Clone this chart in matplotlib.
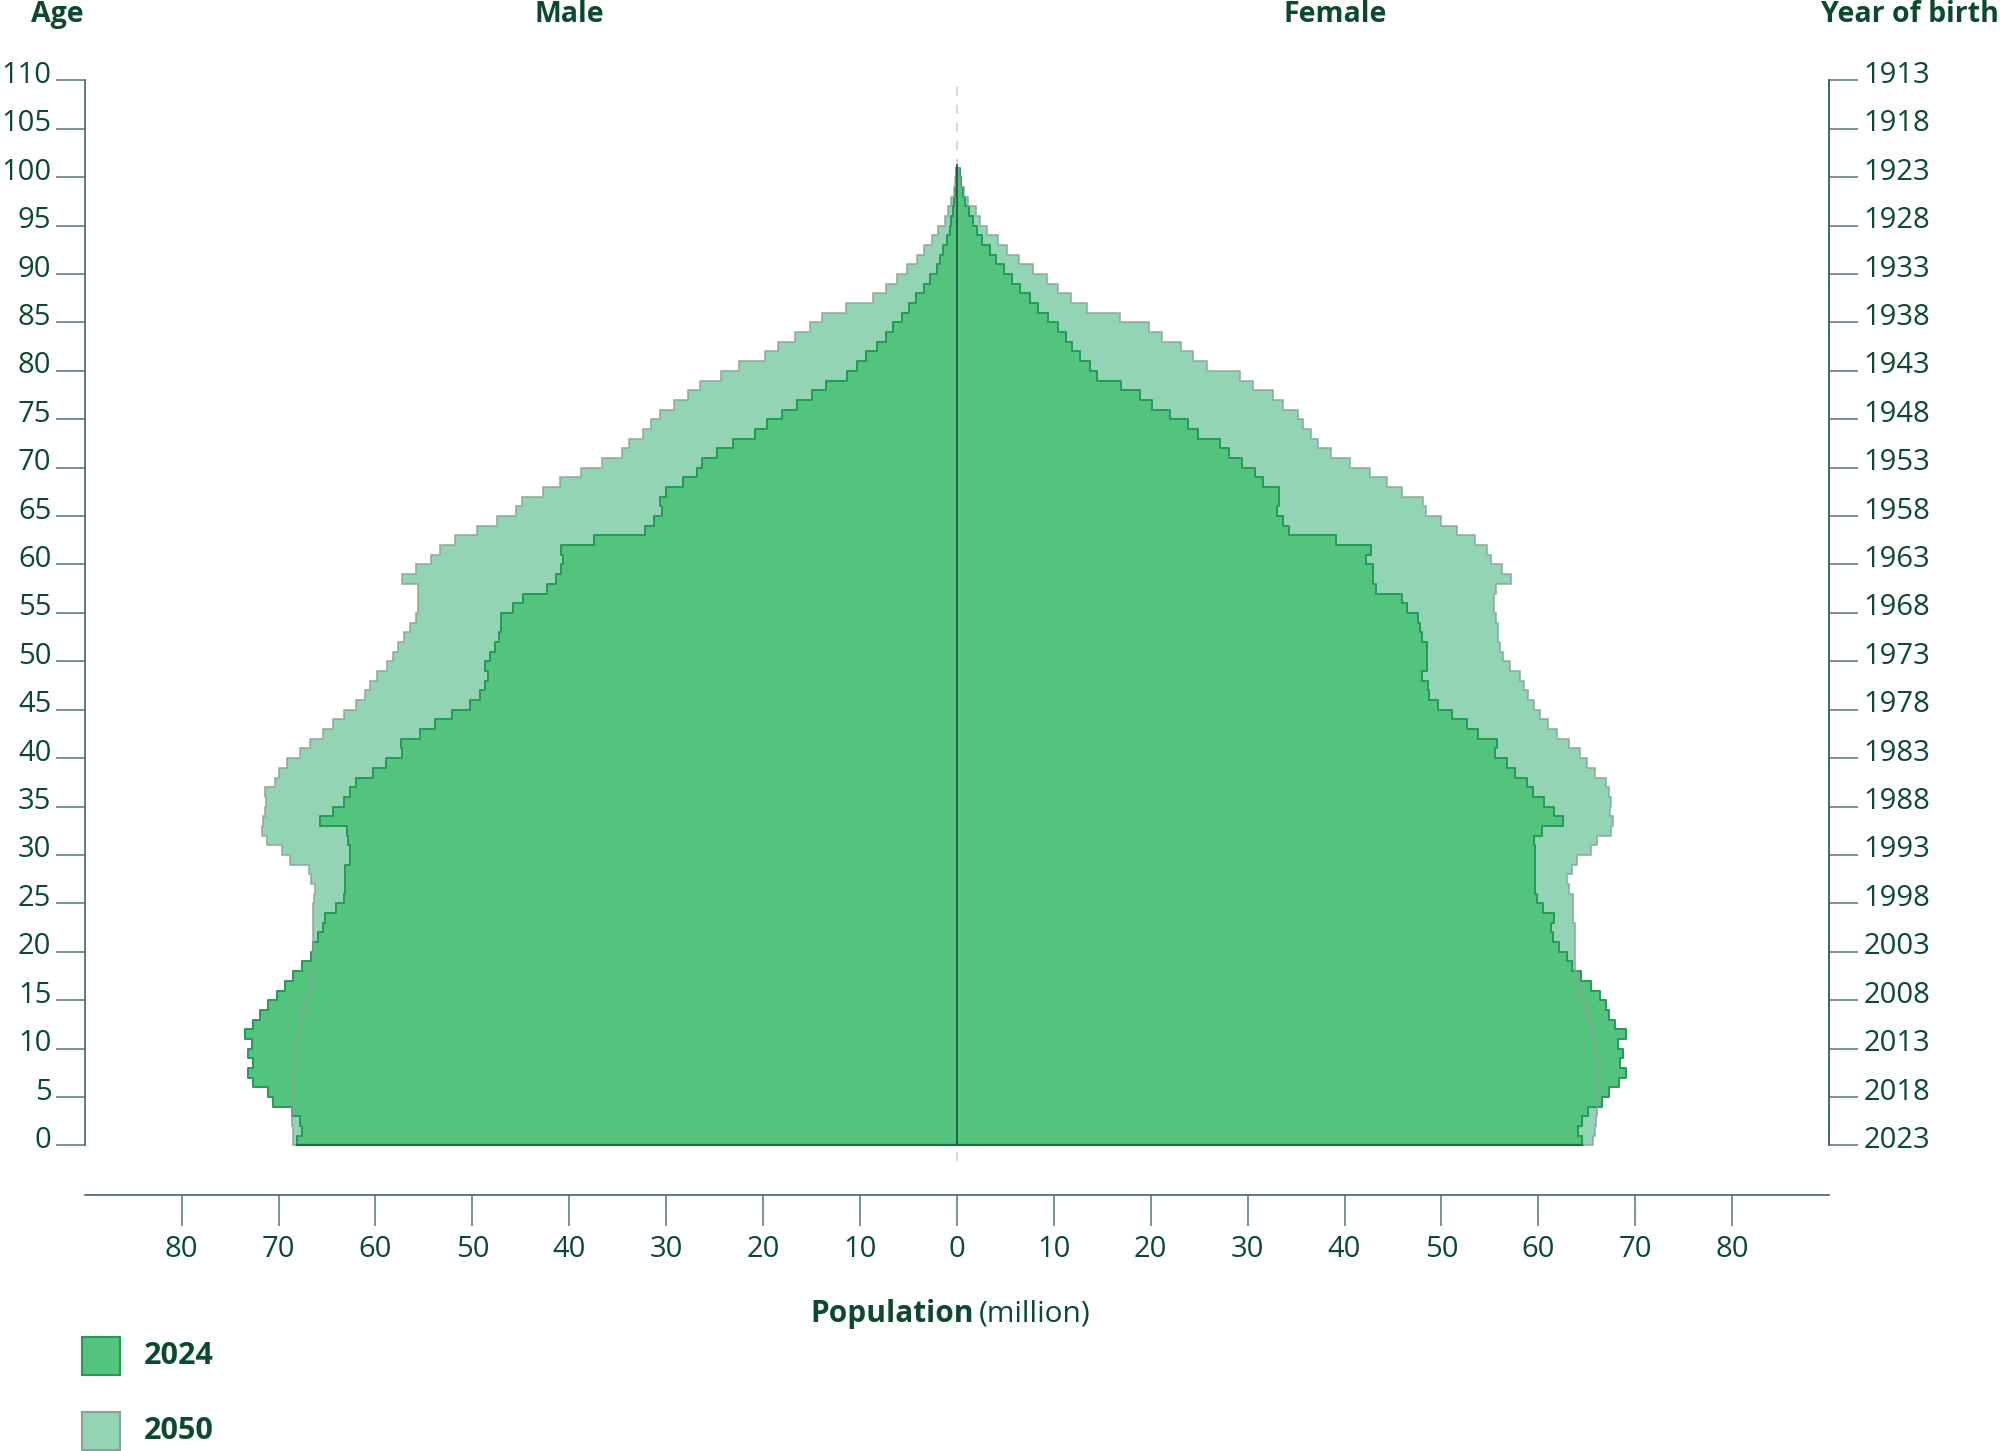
import numpy as np
import matplotlib
matplotlib.use("Agg")
import matplotlib.pyplot as plt
from matplotlib.patches import Rectangle
from matplotlib.transforms import ScaledTranslation

plt.rcParams["font.family"] = ["Open Sans", "DejaVu Sans"]

# ===== data (million, single years of age 0..100) =====
ages = np.arange(0, 101)

male_2024 = [
    68.1, 67.6, 67.8, 68.6, 70.6, 71.1, 72.6, 73.2, 72.6, 73.2,
    72.7, 73.5, 72.6, 71.9, 71.1, 70.2, 69.3, 68.5, 67.6, 66.7,
    66.4, 65.9, 65.4, 65.2, 64.1, 63.3, 63.1, 63.1, 63.1, 62.6,
    62.6, 62.8, 62.9, 65.7, 64.4, 63.3, 62.6, 62.0, 60.3, 58.9,
    57.3, 57.4, 55.4, 53.9, 52.1, 50.2, 49.2, 48.7, 48.4, 48.7,
    48.2, 47.7, 47.3, 47.1, 47.0, 45.8, 44.8, 42.3, 41.4, 40.9,
    40.6, 40.9, 37.4, 32.2, 31.3, 30.4, 30.6, 30.0, 28.3, 26.8,
    26.3, 24.8, 23.1, 20.8, 19.6, 18.0, 16.5, 15.0, 13.5, 11.3,
    10.3, 9.4, 8.2, 7.3, 6.6, 5.7, 4.9, 4.2, 3.4, 2.8,
    2.1, 1.7, 1.4, 1.0, 0.76, 0.6, 0.42, 0.28, 0.17, 0.1,
    0.05]

male_2050 = [
    68.5, 68.5, 68.6, 68.6, 68.6, 68.6, 68.5, 68.5, 68.4, 68.2,
    68.1, 67.9, 67.7, 67.5, 67.3, 67.0, 66.8, 66.6, 66.5, 66.5,
    66.4, 66.4, 66.4, 66.4, 66.4, 66.3, 66.2, 66.7, 66.9, 68.8,
    69.6, 71.2, 71.7, 71.6, 71.4, 71.3, 71.4, 70.4, 70.0, 69.1,
    67.8, 66.8, 65.4, 64.4, 63.2, 62.0, 61.1, 60.6, 59.8, 58.8,
    58.2, 57.7, 57.1, 56.4, 55.8, 55.6, 55.6, 55.6, 57.3, 55.8,
    54.3, 53.3, 51.8, 49.5, 47.5, 45.5, 44.9, 42.7, 41.0, 38.8,
    36.6, 34.6, 33.8, 32.4, 31.6, 30.6, 29.2, 27.8, 26.5, 24.3,
    22.5, 19.8, 18.5, 16.7, 15.2, 13.9, 11.4, 8.7, 7.3, 6.2,
    5.1, 4.1, 3.4, 2.6, 1.9, 1.2, 0.9, 0.6, 0.35, 0.17,
    0.08]

female_2024 = [
    64.5, 64.1, 64.5, 65.1, 66.6, 67.3, 68.3, 69.0, 68.4, 68.7,
    68.2, 69.1, 67.9, 67.3, 67.0, 66.4, 65.4, 64.4, 63.5, 63.0,
    62.1, 61.5, 61.3, 61.6, 60.5, 59.9, 59.7, 59.7, 59.7, 59.7,
    59.7, 59.6, 60.4, 62.5, 61.6, 60.6, 59.5, 58.8, 57.6, 56.8,
    55.5, 55.7, 53.8, 52.6, 51.1, 49.6, 48.7, 48.6, 48.0, 48.5,
    48.5, 48.5, 48.0, 47.8, 47.6, 46.5, 45.9, 43.3, 42.9, 42.9,
    42.2, 42.7, 39.1, 34.3, 33.7, 33.0, 33.2, 33.2, 31.6, 30.8,
    29.4, 28.1, 27.2, 24.9, 23.8, 22.0, 20.1, 18.9, 16.9, 14.5,
    13.7, 12.7, 11.9, 11.3, 10.4, 9.4, 8.4, 7.5, 6.5, 5.7,
    4.9, 4.0, 3.4, 2.6, 2.1, 1.7, 1.2, 0.87, 0.63, 0.42,
    0.28]

female_2050 = [
    65.6, 65.8, 66.0, 66.1, 66.1, 66.1, 66.1, 66.1, 66.1, 66.0,
    65.9, 65.6, 65.3, 65.1, 64.7, 64.4, 64.2, 64.0, 63.8, 63.8,
    63.8, 63.8, 63.8, 63.6, 63.6, 63.6, 63.2, 63.0, 63.5, 64.0,
    65.4, 66.1, 67.5, 67.7, 67.4, 67.5, 67.3, 67.0, 65.8, 65.0,
    64.3, 63.2, 61.9, 61.0, 60.2, 59.6, 58.9, 58.5, 58.1, 57.1,
    56.4, 56.0, 55.8, 55.8, 55.6, 55.4, 55.4, 55.6, 57.2, 56.3,
    55.1, 54.7, 53.5, 51.6, 50.0, 48.4, 48.1, 45.9, 44.4, 42.6,
    40.6, 38.6, 37.3, 36.5, 35.7, 35.2, 33.7, 32.6, 30.6, 29.2,
    25.8, 24.4, 23.1, 21.2, 19.8, 16.8, 13.4, 11.8, 10.4, 9.3,
    7.9, 6.4, 5.2, 4.2, 3.1, 2.4, 2.0, 1.1, 0.76, 0.28,
    0.18]

age_ticks = list(range(0, 111, 5))
birth_labels = [str(2023 - a) for a in age_ticks]
pop_ticks = list(range(-80, 81, 10))
pop_labels = [str(abs(t)) for t in pop_ticks]

# ===== colours =====
TXT = "#0b4a2c"
TICK = "#55776a"
SPINE = "#3d6b55"
C24, E24 = "#52c47e", "#259957"
C50, E50 = "#93d4b5", "#8aa396"


def outline(vals, sign):
    # step outline of one side of the pyramid
    v = np.asarray(vals) * sign
    edges = np.arange(0, len(v) + 1)
    ys = np.concatenate([[0], np.repeat(edges, 2)[1:-1], [edges[-1]]])
    xs = np.concatenate([[0], np.repeat(v, 2), [0]])
    return xs, ys


fig = plt.figure(figsize=(20, 14.51), dpi=100)
ax = fig.add_axes([0.0424, 0.1763, 0.8721, 0.7683])
ax.set_xlim(-90, 90)
ax.set_ylim(-5.14, 110)

edges = np.arange(0, 102)
m50 = -np.append(male_2050, male_2050[-1])
f50 = np.append(female_2050, female_2050[-1])
m24 = -np.append(male_2024, male_2024[-1])
f24 = np.append(female_2024, female_2024[-1])

# faint dashed centre line
ax.plot([0, 0], [-1.6, 110], color="#c9d9d0", lw=1.3, ls=(0, (5, 5)), zorder=1)

ax.fill_betweenx(edges, m50, f50, step="post", color=C50, lw=0, zorder=2)
ax.fill_betweenx(edges, m24, f24, step="post", color=C24, lw=0, zorder=3)

for vals, sign in [(male_2024, -1), (female_2024, 1)]:
    xs, ys = outline(vals, sign)
    ax.plot(xs, ys, color=E24, lw=1.4, zorder=4)
for vals, sign in [(male_2050, -1), (female_2050, 1)]:
    xs, ys = outline(vals, sign)
    ax.plot(xs, ys, color=E50, lw=1.4, alpha=0.75, zorder=5)

ax.plot([0, 0], [0, 101.3], color="#1e5c3c", lw=1.3, zorder=6)
ax.plot([m24[0], f24[0]], [0, 0], color="#1e6e43", lw=1.6, zorder=6)

# ===== axes styling =====
ax.spines["top"].set_visible(False)
ax.spines["left"].set_bounds(0, 110)
ax.spines["right"].set_bounds(0, 110)
for s in ["left", "right", "bottom"]:
    ax.spines[s].set_color(SPINE)
    ax.spines[s].set_linewidth(1.2)

ax.set_yticks(age_ticks)
ax.set_yticklabels([str(a) for a in age_ticks], va="baseline")
ax.tick_params(axis="y", direction="out", length=21, width=1.1, color=TICK,
               labelsize=21, labelcolor=TXT, pad=3)
ax.set_xticks(pop_ticks)
ax.set_xticklabels(pop_labels)
ax.tick_params(axis="x", direction="out", length=22, width=1.1, color=TICK,
               labelsize=21, labelcolor=TXT, pad=7)

ax2 = ax.twinx()
ax2.set_ylim(ax.get_ylim())
for s in ["top", "left", "bottom"]:
    ax2.spines[s].set_visible(False)
ax2.spines["right"].set_bounds(0, 110)
ax2.spines["right"].set_color(SPINE)
ax2.spines["right"].set_linewidth(1.2)
ax2.set_yticks(age_ticks)
ax2.set_yticklabels(birth_labels, va="baseline")
ax2.tick_params(axis="y", direction="out", length=21, width=1.1, color=TICK,
                labelsize=21, labelcolor=TXT, pad=4)

# nudge age / year labels so the digits sit just on the tick line
shift = ScaledTranslation(0, -2.5 / 100, fig.dpi_scale_trans)
for lab in ax.get_yticklabels() + ax2.get_yticklabels():
    lab.set_transform(lab.get_transform() + shift)

# ===== headers =====
hdr = dict(fontsize=20.5, fontweight="bold", color=TXT, va="baseline")
fig.text(0.0285, 0.9848, "Age", ha="center", **hdr)
fig.text(0.2845, 0.9848, "Male", ha="center", **hdr)
fig.text(0.6675, 0.9848, "Female", ha="center", **hdr)
fig.text(0.9995, 0.9848, "Year of birth", ha="right", **hdr)

fig.text(0.4870, 0.0944, "Population", ha="right", va="center",
         fontsize=21.5, fontweight="bold", color=TXT)
fig.text(0.4895, 0.0944, "(million)", ha="left", va="center",
         fontsize=21.5, color=TXT)

# ===== legend =====
fig.add_artist(Rectangle((0.0408, 0.0524), 0.019, 0.0262, transform=fig.transFigure,
                         facecolor=C24, edgecolor=E24, lw=1.5))
fig.add_artist(Rectangle((0.0408, 0.0010), 0.019, 0.0262, transform=fig.transFigure,
                         facecolor=C50, edgecolor=E50, lw=1.5))
fig.text(0.072, 0.0655, "2024", ha="left", va="center", fontsize=22,
         fontweight="bold", color=TXT)
fig.text(0.072, 0.0141, "2050", ha="left", va="center", fontsize=22,
         fontweight="bold", color=TXT)

fig.savefig("out.png", dpi=100)
